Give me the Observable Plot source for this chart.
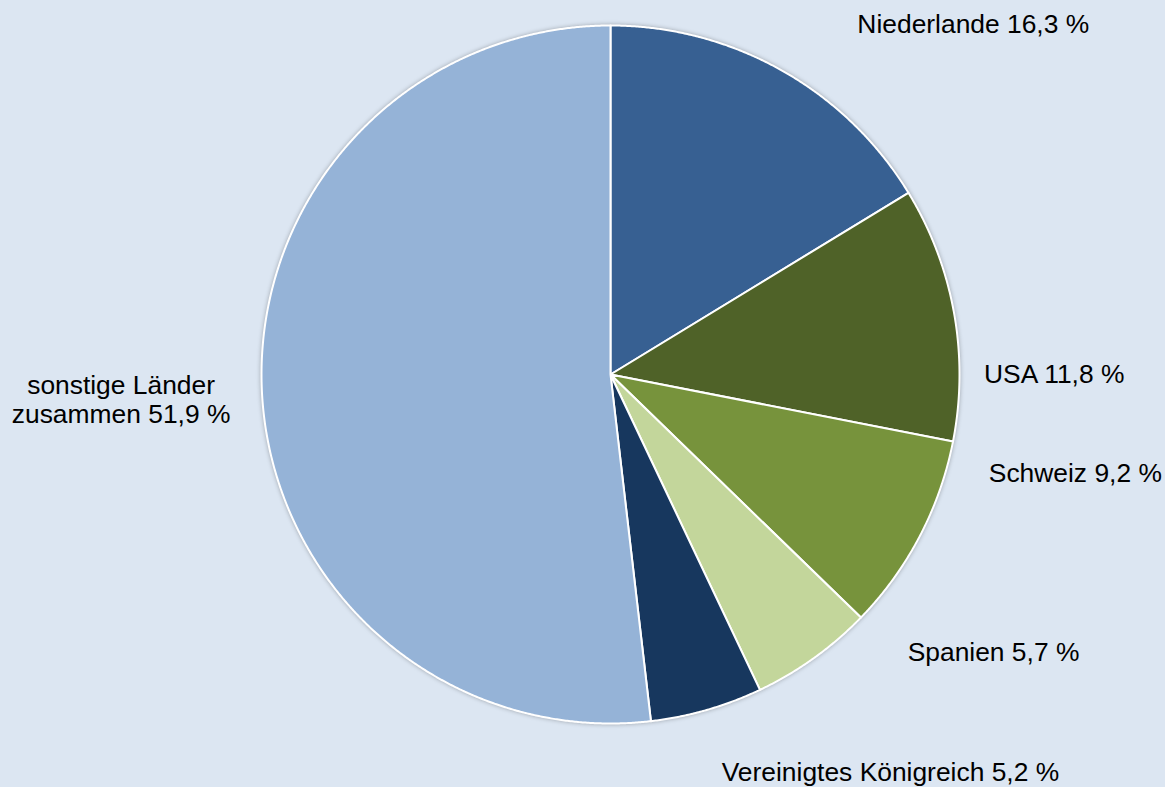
<!DOCTYPE html>
<html>
<head>
<meta charset="utf-8">
<script src="https://cdn.jsdelivr.net/npm/d3@7"></script>
<script src="https://cdn.jsdelivr.net/npm/@observablehq/plot@0.6"></script>
<style>
  html, body { margin: 0; padding: 0; background: #dce6f2; }
  #chart svg g.pie { filter: drop-shadow(0px 0px 2px rgba(0,0,0,0.28)); }
</style>
</head>
<body>
<div id="chart"></div>
<script>
// ---- data ----
const categories = ["Niederlande", "USA", "Schweiz", "Spanien", "Vereinigtes Königreich", "sonstige Länder zusammen"];
const values = [16.3, 11.8, 9.2, 5.7, 5.2, 51.9];
const colors = ["#376092", "#4f6228", "#77933c", "#c3d69b", "#17375e", "#95b3d7"];

// ---- layout (label offsets in px from the slice's outer-edge midpoint) ----
const labelLayout = [
  {dx: 76, dy: -37, anchor: "start"},
  {dx: 30, dy: 70, anchor: "start"},
  {dx: 69, dy: -54, anchor: "start"},
  {dx: 94, dy: 3, anchor: "start"},
  {dx: 15, dy: 71, anchor: "start"},
  {dx: -141, dy: 28, anchor: "middle"}
];

const total = d3.sum(values);
const slices = [];
let acc = 0;
categories.forEach((name, i) => {
  const a0 = acc / total * 2 * Math.PI;
  acc += values[i];
  const a1 = acc / total * 2 * Math.PI;
  slices.push({name, value: values[i], a0, a1, mid: (a0 + a1) / 2, i});
});

// polygon points for each slice (angle measured clockwise from 12 o'clock)
const polyPts = [];
for (const s of slices) {
  polyPts.push({name: s.name, a: null});
  const n = Math.max(2, Math.ceil((s.a1 - s.a0) / (Math.PI / 720)));
  for (let k = 0; k <= n; k++) polyPts.push({name: s.name, a: s.a0 + (s.a1 - s.a0) * k / n});
  polyPts.push({name: s.name, a: null});
}
const px = d => d.a === null ? 0 : Math.sin(d.a);
const py = d => d.a === null ? 0 : Math.cos(d.a);

const fmt = v => v.toFixed(1).replace(".", ",") + " %";
const labelText = s => (s.name.replace("Länder ", "Länder\n")) + " " + fmt(s.value);

const textMarks = slices.map((s, i) => Plot.text([s], {
  x: d => Math.sin(d.mid),
  y: d => Math.cos(d.mid),
  text: labelText,
  dx: labelLayout[i].dx,
  dy: labelLayout[i].dy,
  textAnchor: labelLayout[i].anchor,
  lineAnchor: "bottom",
  lineHeight: 1.1,
  fontSize: 26.4,
  fill: "#000"
}));

const chart = Plot.plot({
  width: 1165,
  height: 787,
  marginLeft: 261,
  marginRight: 206,
  marginTop: 25,
  marginBottom: 64,
  x: {domain: [-1, 1], axis: null},
  y: {domain: [-1, 1], axis: null},
  color: {domain: categories, range: colors},
  style: {background: "#dce6f2", fontFamily: "'Liberation Sans', Arial, sans-serif", overflow: "visible"},
  marks: [
    Plot.line(polyPts, {
      x: px, y: py, z: "name", fill: "name",
      stroke: "white", strokeWidth: 2, strokeLinejoin: "round",
      curve: "linear", className: "pie"
    }),
    ...textMarks
  ]
});
chart.querySelectorAll("g[aria-label='line']").forEach(g => g.classList.add("pie"));
document.getElementById("chart").appendChild(chart);
</script>
</body>
</html>
